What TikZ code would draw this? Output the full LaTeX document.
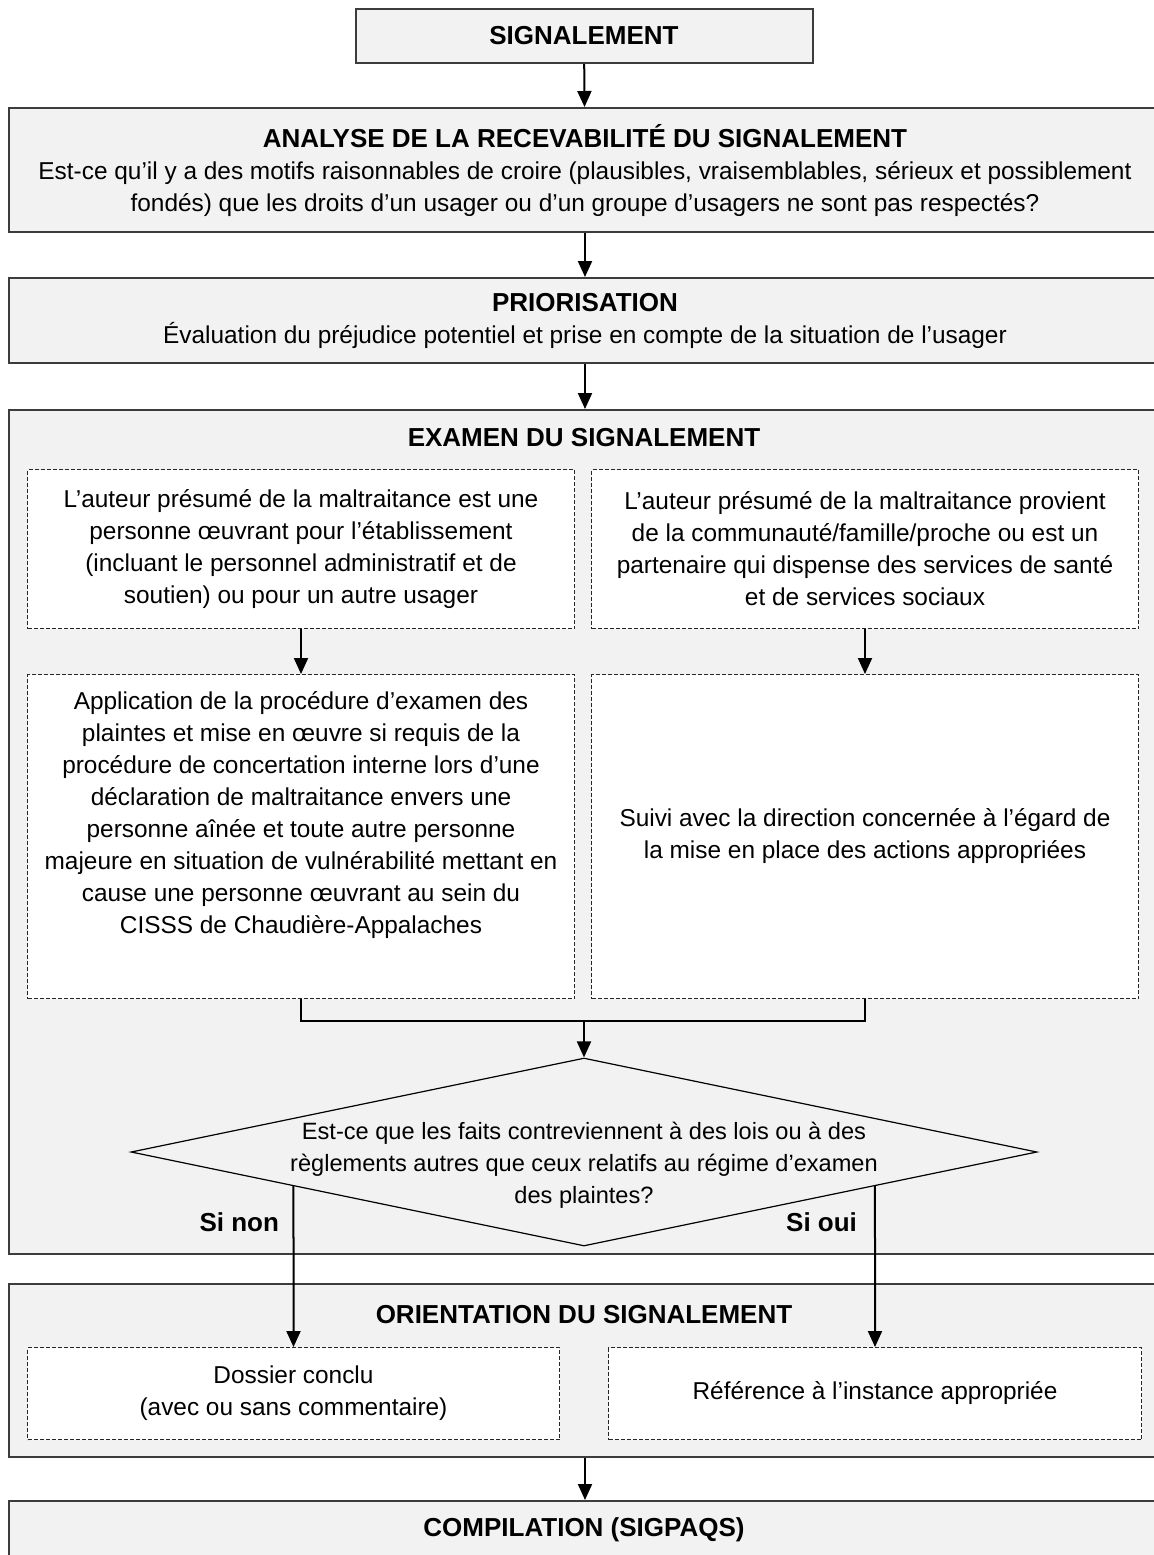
\documentclass[tikz,border=0pt]{standalone}
\usepackage{fontspec}
\setmainfont{Liberation Sans}
\usetikzlibrary{arrows.meta,shapes.geometric,positioning}
\definecolor{panelgray}{HTML}{F2F2F2}
\definecolor{edgegray}{HTML}{3C3C3C}
\newcommand\ttlfont{\fontsize{13}{16}\selectfont\bfseries}
\newcommand\txtfont{\fontsize{12.2}{16}\selectfont}
\tikzset{
  panel/.style={draw=edgegray,line width=1pt,fill=panelgray,anchor=north west,inner sep=0pt,
    font=\txtfont,align=center,minimum width=576pt},
  inbox/.style={draw=black!85,dash pattern=on 2pt off 1pt,line width=0.5pt,fill=white,
    anchor=north west,inner sep=0pt,font=\txtfont,align=center},
  ttl/.style={font=\ttlfont,align=center},
  txt/.style={font=\txtfont,align=center},
  arr/.style={-{Triangle[length=8pt,width=7pt]},line width=1pt},
  lnk/.style={line width=1pt}
}
\begin{document}
\begin{tikzpicture}[x=0.5pt,y=-0.5pt]
  \useasboundingbox (0,0) rectangle (1154,1555);
  \clip (0,0) rectangle (1154,1555);
  % top of the chain
  \node[panel,anchor=north,minimum width=228.5pt,minimum height=27pt,font=\ttlfont] (sig) at (584,8) {SIGNALEMENT};
  \node[panel,minimum height=62pt] (ana) at (8,107) {{\ttlfont ANALYSE DE LA RECEVABILITÉ DU SIGNALEMENT}\\
    Est-ce qu’il y a des motifs raisonnables de croire (plausibles, vraisemblables, sérieux et possiblement\\
    fondés) que les droits d’un usager ou d’un groupe d’usagers ne sont pas respectés?};
  \node[panel,minimum height=42.5pt] (prio) at (8,277) {{\ttlfont PRIORISATION}\\
    Évaluation du préjudice potentiel et prise en compte de la situation de l’usager};
  \draw[arr] (sig) -- (ana);
  \draw[arr] (ana) -- (prio);

  % examen
  \node[panel,minimum height=422pt] (exam) at (8,409) {};
  \node[ttl] (examttl) at (584,438) {EXAMEN DU SIGNALEMENT};
  \draw[arr] (prio) -- (exam);
  \node[inbox,minimum width=273.5pt,minimum height=79.5pt] (auteur) at (27,469) {L’auteur présumé de la maltraitance est une\\
    personne œuvrant pour l’établissement\\(incluant le personnel administratif et de\\soutien) ou pour un autre usager};
  \node[inbox,minimum width=273.5pt,minimum height=79.5pt] (proche) at (591,469) {L’auteur présumé de la maltraitance provient\\
    de la communauté/famille/proche ou est un\\partenaire qui dispense des services de santé\\et de services sociaux};
  \node[inbox,minimum width=273.5pt,minimum height=162pt] (appl) at (27,674) {};
  \node[txt,below=5pt of appl.north] (appltxt) {Application de la procédure d’examen des\\
    plaintes et mise en œuvre si requis de la\\procédure de concertation interne lors d’une\\
    déclaration de maltraitance envers une\\personne aînée et toute autre personne\\
    majeure en situation de vulnérabilité mettant en\\cause une personne œuvrant au sein du\\
    CISSS de Chaudière-Appalaches};
  \node[inbox,minimum width=273.5pt,minimum height=162pt] (suivi) at (591,674) {Suivi avec la direction concernée à l’égard de\\
    la mise en place des actions appropriées};
  \draw[arr] (auteur) -- (appl);
  \draw[arr] (proche) -- (suivi);
  \coordinate (join) at (584,1021);
  \draw[lnk] (appl.south) |- (join) -| (suivi.south);

  % question
  \node[diamond,draw,line width=0.6pt,inner sep=0pt,minimum width=453pt,minimum height=94pt] (dia) at (584,1152) {};
  \node[txt,font=\fontsize{11.8}{16}\selectfont] (diatxt) at (584,1165) {Est-ce que les faits contreviennent à des lois ou à des\\
    règlements autres que ceux relatifs au régime d’examen\\des plaintes?};
  \draw[arr] (join) -- (dia.north);
  \node[ttl,anchor=east] (sinon) at (286,1222) {Si non};
  \node[ttl,anchor=east] (sioui) at (864,1222) {Si oui};

  % orientation
  \node[panel,minimum height=86.5pt] (orient) at (8,1283) {};
  \node[ttl] (orientttl) at (584,1315) {ORIENTATION DU SIGNALEMENT};
  \node[inbox,minimum width=266pt,minimum height=46pt] (concl) at (27,1347) {Dossier conclu\\(avec ou sans commentaire)};
  \node[inbox,minimum width=266.5pt,minimum height=46pt] (refer) at (608,1347) {Référence à l’instance appropriée};
  \draw[arr] (intersection of dia.west--dia.south and concl.north--concl.south) -- (concl.north);
  \draw[arr] (intersection of dia.east--dia.south and refer.north--refer.south) -- (refer.north);

  % compilation
  \node[panel,minimum height=60pt] (comp) at (8,1500) {};
  \node[ttl] (compttl) at (584,1530) {COMPILATION (SIGPAQS)};
  \draw[arr] (orient) -- (comp);
\end{tikzpicture}
\end{document}
